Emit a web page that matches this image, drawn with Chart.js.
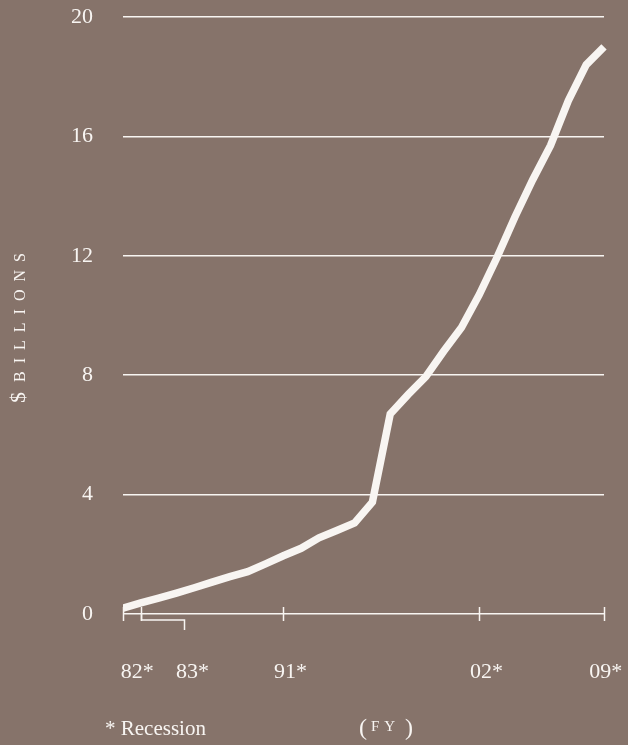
<!DOCTYPE html>
<html>
<head>
<meta charset="utf-8">
<script src="https://cdn.jsdelivr.net/npm/chart.js@4/dist/chart.umd.min.js"></script>
<style>
  html, body { margin: 0; padding: 0; background: #86736a; }
  #contenedor { width: 628px; height: 745px; }
</style>
</head>
<body>
<div id="contenedor"><canvas id="grafico" width="628" height="745"></canvas></div>
<script>
// Datos: años fiscales y monto en miles de millones
const anios = [1982, 1983, 1984, 1985, 1986, 1987, 1988, 1989, 1990, 1991,
  1992, 1993, 1994, 1995, 1996, 1997, 1998, 1999, 2000, 2001,
  2002, 2003, 2004, 2005, 2006, 2007, 2008, 2009];
const montos = [0.2, 0.37, 0.53, 0.7, 0.88, 1.07, 1.25, 1.42, 1.68, 1.95,
  2.2, 2.55, 2.8, 3.05, 3.75, 6.7, 7.35, 7.95, 8.8, 9.6,
  10.7, 11.95, 13.3, 14.55, 15.7, 17.2, 18.4, 19.0];

const ticksY = [0, 4, 8, 12, 16, 20];
const marcasX = [1982, 1983, 1991, 2002, 2009];
const etiquetasX = ['82*', '83*', '91*', '02*', '09*'];
const anclaEtiquetas = [1982.8, 1985.9, 1991.4, 2002.4, 2009.1];
const recesion = [1983, 1985.4];

const FONDO = '#86736a';
const BLANCO = '#f8f5f2';
const SERIF = "'Liberation Serif', serif";

// sin relleno extra de las etiquetas, el área queda donde la ponemos
function sinRelleno(s) {
  s.paddingTop = 0;
  s.paddingBottom = 0;
  s.paddingLeft = 0;
  s.paddingRight = 0;
}

// Marcas del eje X, corchete de recesión, título vertical y notas
const decoracion = {
  id: 'decoracion',
  beforeDraw(chart) {
    const ctx = chart.ctx;
    ctx.save();
    ctx.fillStyle = FONDO;
    ctx.fillRect(0, 0, chart.width, chart.height);
    ctx.restore();
  },
  afterDraw(chart) {
    const ctx = chart.ctx;
    const x = chart.scales.x;
    const base = chart.chartArea.bottom;
    ctx.save();
    ctx.strokeStyle = BLANCO;
    ctx.lineWidth = 1.5;

    marcasX.forEach(a => {
      const px = Math.round(x.getPixelForValue(a)) + 0.5;
      ctx.beginPath();
      ctx.moveTo(px, base - 7);
      ctx.lineTo(px, base + 7);
      ctx.stroke();
    });

    // corchete de la recesión 82-83
    const r0 = Math.round(x.getPixelForValue(recesion[0])) + 0.5;
    const r1 = Math.round(x.getPixelForValue(recesion[1])) + 0.5;
    ctx.beginPath();
    ctx.moveTo(r0, base);
    ctx.lineTo(r0, base + 6);
    ctx.lineTo(r1, base + 6);
    ctx.lineTo(r1, base + 16);
    ctx.stroke();

    // título vertical "$ BILLIONS"
    ctx.fillStyle = BLANCO;
    ctx.textBaseline = 'alphabetic';
    ctx.translate(25, 324);
    ctx.rotate(-Math.PI / 2);
    ctx.font = '22px ' + SERIF;
    const anchoPeso = ctx.measureText('$').width;
    ctx.font = '16px ' + SERIF;
    ctx.letterSpacing = '8px';
    const anchoTexto = ctx.measureText('BILLIONS').width;
    const total = anchoPeso + 10 + anchoTexto;
    ctx.letterSpacing = '0px';
    ctx.font = '22px ' + SERIF;
    ctx.fillText('$', -total / 2, 0);
    ctx.font = '16px ' + SERIF;
    ctx.letterSpacing = '8px';
    ctx.fillText('BILLIONS', -total / 2 + anchoPeso + 10, 0);
    ctx.setTransform(1, 0, 0, 1, 0, 0);

    // notas al pie
    ctx.letterSpacing = '0px';
    ctx.font = '21px ' + SERIF;
    ctx.textAlign = 'left';
    ctx.fillText('* Recession', 105, 735);
    ctx.font = '24px ' + SERIF;
    ctx.fillText('(', 359, 735);
    ctx.fillText(')', 405, 735);
    ctx.font = '15px ' + SERIF;
    ctx.letterSpacing = '5px';
    ctx.fillText('FY', 371, 731);
    ctx.restore();
  }
};

const ctx = document.getElementById('grafico').getContext('2d');
new Chart(ctx, {
  type: 'line',
  data: {
    datasets: [{
      data: anios.map((a, i) => ({ x: a, y: montos[i] })),
      borderColor: BLANCO,
      borderWidth: 7.5,
      pointRadius: 0,
      tension: 0,
      clip: { left: 0, top: false, right: false, bottom: false }
    }]
  },
  options: {
    responsive: false,
    animation: false,
    layout: { padding: { top: 17, right: 24, left: 0, bottom: 0 } },
    plugins: { legend: { display: false }, tooltip: { enabled: false } },
    scales: {
      x: {
        type: 'linear',
        min: 1982,
        max: 2009,
        border: { display: false },
        grid: { display: false },
        afterBuildTicks: s => { s.ticks = anclaEtiquetas.map(v => ({ value: v })); },
        afterFit: s => { s.height = 131; sinRelleno(s); },
        ticks: {
          color: BLANCO,
          font: { family: SERIF, size: 22 },
          padding: 37,
          maxRotation: 0,
          autoSkip: false,
          callback: (v, i) => etiquetasX[i]
        }
      },
      y: {
        min: 0,
        max: 20,
        border: { display: false },
        afterBuildTicks: s => { s.ticks = ticksY.map(v => ({ value: v })); },
        afterFit: s => { s.width = 123; sinRelleno(s); },
        grid: { color: BLANCO, lineWidth: 1.5, drawTicks: false },
        ticks: {
          color: BLANCO,
          font: { family: SERIF, size: 22 },
          padding: 30
        }
      }
    }
  },
  plugins: [decoracion]
});
</script>
</body>
</html>
